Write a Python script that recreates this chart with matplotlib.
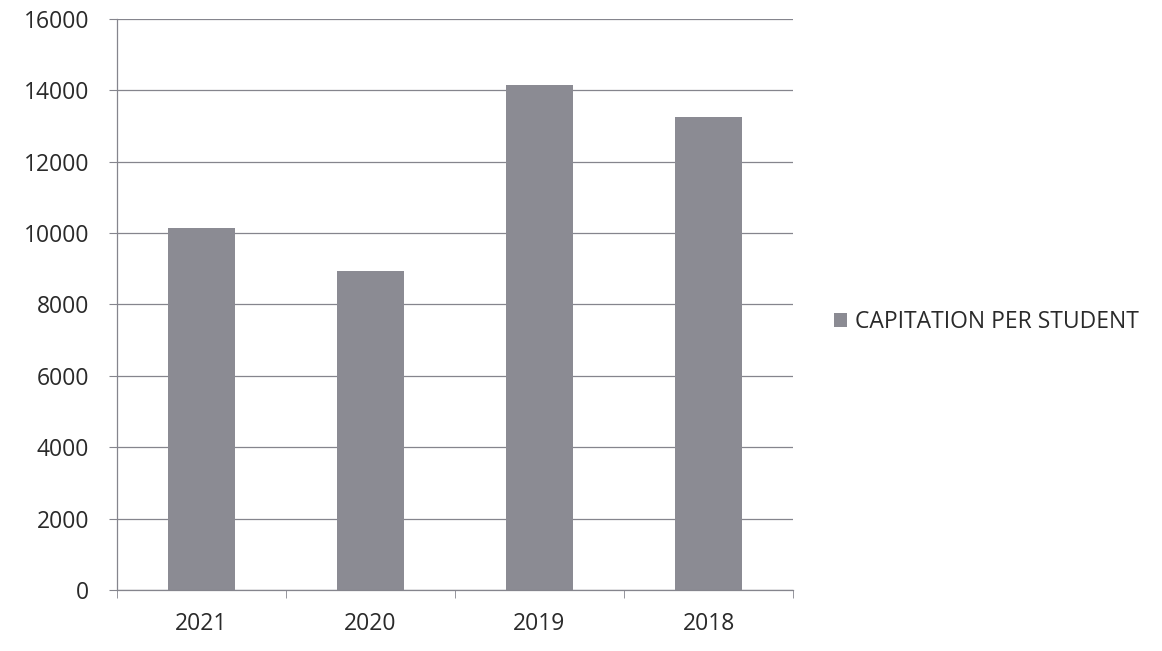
import matplotlib.pyplot as plt
from matplotlib.ticker import MultipleLocator

plt.rcParams['font.family'] = ['Open Sans', 'DejaVu Sans']

years = ['2021', '2020', '2019', '2018']
capitation = [10150, 8950, 14150, 13250]
series_name = 'CAPITATION PER STUDENT'

BAR = '#8b8b93'
GRID = '#85858d'
TEXT = '#2a2a2a'
FS = 16.5

fig = plt.figure(figsize=(11.62, 6.51), dpi=100)
ax = fig.add_axes([117 / 1162, 61 / 651, 676 / 1162, 571 / 651])

x = range(len(years))
bars = ax.bar(x, capitation, width=0.4, color=BAR, label=series_name, zorder=2)

ax.set_xlim(-0.5, len(years) - 0.5)
ax.set_ylim(0, 16000)
ax.yaxis.set_major_locator(MultipleLocator(2000))
ax.grid(axis='y', color=GRID, linewidth=0.9, zorder=0)

ax.set_xticks(list(x))
ax.set_xticklabels(years)
ax.tick_params(axis='x', length=0, pad=16, labelsize=FS, labelcolor=TEXT)
ax.set_xticks([i + 0.5 for i in range(-1, len(years))], minor=True)
ax.tick_params(axis='x', which='minor', length=6, color=GRID, direction='out')
ax.tick_params(axis='y', length=6, color=GRID, pad=14, labelsize=FS, labelcolor=TEXT)

for side in ['top', 'right']:
    ax.spines[side].set_visible(False)
for side in ['left', 'bottom']:
    ax.spines[side].set_color(GRID)
    ax.spines[side].set_linewidth(0.9)

fig.legend(handles=[bars], labels=[series_name], loc='center left',
           bbox_to_anchor=(813 / 1162, 1 - 322 / 651), frameon=False,
           fontsize=FS, handlelength=0.6, handleheight=0.6, handletextpad=0.35,
           labelcolor=TEXT)

fig.savefig('out.png', dpi=100, facecolor='white')
